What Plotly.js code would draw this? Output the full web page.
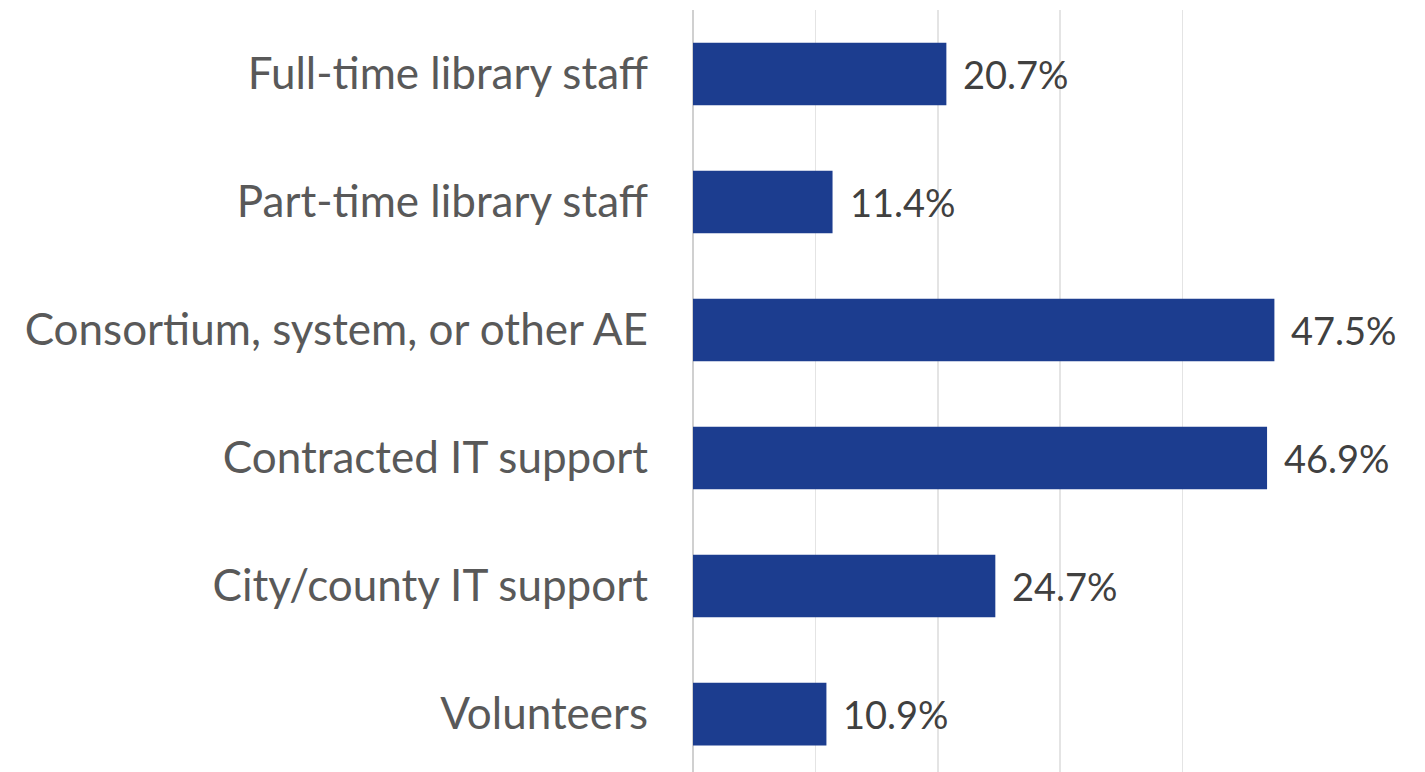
<!DOCTYPE html>
<html><head><meta charset="utf-8">
<script src="https://cdn.plot.ly/plotly-3.0.1.min.js"></script>
<style>html,body{margin:0;padding:0;background:#fff;overflow:hidden}#chart{width:1425px;height:772px}</style>
</head><body><div id="chart"></div>
<script>
const categories = ["Full-time library staff","Part-time library staff","Consortium, system, or other AE","Contracted IT support","City/county IT support","Volunteers"];
const values = [20.7, 11.4, 47.5, 46.9, 24.7, 10.9];
const valueLabels = values.map(v => v.toFixed(1) + "%");

const FONT = "Lato, 'Open Sans', sans-serif";
const trace = {
  type: "bar", orientation: "h",
  x: values, y: categories,
  marker: {color: "#1C3D8F"},
  hoverinfo: "skip"
};
const annotations = values.map((v, i) => ({
  x: v, y: categories[i], xref: "x", yref: "y",
  text: valueLabels[i], showarrow: false, xanchor: "left", xshift: 15,
  font: {family: FONT, size: 38, color: "#404040"}
}));
const layout = {
  width: 1425, height: 772,
  margin: {l: 693, r: 120, t: 10, b: 0, pad: 0},
  paper_bgcolor: "#fff", plot_bgcolor: "#fff",
  showlegend: false,
  bargap: 0.51,
  xaxis: {range: [0, 50], dtick: 10, showticklabels: false, showgrid: true, gridcolor: "#E4E4E4", gridwidth: 1.5,
          zeroline: true, zerolinecolor: "#D0D0D0", zerolinewidth: 2, showline: false, fixedrange: true},
  yaxis: {type: "category", categoryorder: "array", categoryarray: categories, autorange: false, range: [5.453, -0.5],
          showgrid: false, zeroline: false, showline: false, ticks: "", ticklabelstandoff: 44,
          tickfont: {family: FONT, size: 44, color: "#595959"}, fixedrange: true},
  annotations: annotations,
  font: {family: FONT}
};
Plotly.newPlot("chart", [trace], layout, {displayModeBar: false, staticPlot: true});
</script></body></html>
